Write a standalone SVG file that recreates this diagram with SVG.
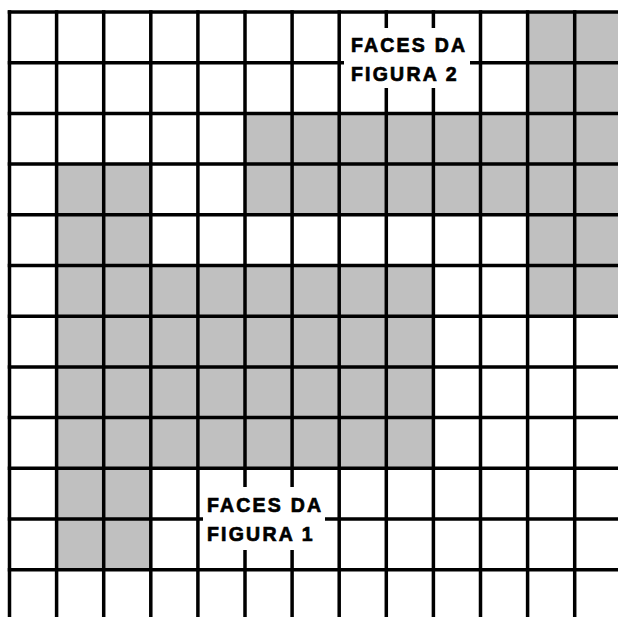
<svg xmlns="http://www.w3.org/2000/svg" width="618" height="617" viewBox="0 0 618 617">
  <style>
    .cell { fill: #c0c0c0; }
    .grid { fill: none; stroke: #000; stroke-width: 3.5; }
    .box { fill: #fff; }
    .lbl { font-family: "Liberation Sans", Arial, sans-serif; font-weight: bold; font-size: 19.5px; letter-spacing: 2.2px; fill: #000; stroke: #000; stroke-width: 0.7px; }
  </style>
  <rect width="618" height="617" fill="#fff"/>
  <g id="faces">
    <rect class="cell" x="56.6" y="164.1" width="94.2" height="405.6"/>
    <rect class="cell" x="150.8" y="265.5" width="282.6" height="202.8"/>
    <rect class="cell" x="245" y="113.4" width="373" height="101.4"/>
    <rect class="cell" x="527.6" y="12" width="90.4" height="304.2"/>
  </g>
  <g id="grid">
    <path class="grid" d="M9.5 10.25V617 M56.6 10.25V617 M103.7 10.25V617 M150.8 10.25V617 M197.9 10.25V617 M245 10.25V617 M292.1 10.25V617 M339.2 10.25V617 M386.3 10.25V617 M433.4 10.25V617 M480.5 10.25V617 M527.6 10.25V617 M574.7 10.25V617"/>
    <path class="grid" d="M7.75 12H618 M7.75 62.7H618 M7.75 113.4H618 M7.75 164.1H618 M7.75 214.8H618 M7.75 265.5H618 M7.75 316.2H618 M7.75 366.9H618 M7.75 417.6H618 M7.75 468.3H618 M7.75 519H618 M7.75 569.7H618"/>
  </g>
  <g id="label-figura-2">
    <rect class="box" x="344" y="28" width="126" height="60"/>
    <text class="lbl" x="351" y="51.7">FACES DA</text>
    <text class="lbl" x="351" y="81">FIGURA 2</text>
  </g>
  <g id="label-figura-1">
    <rect class="box" x="203" y="487" width="122" height="63"/>
    <text class="lbl" x="207" y="511.7">FACES DA</text>
    <text class="lbl" x="207" y="541">FIGURA 1</text>
  </g>
</svg>
